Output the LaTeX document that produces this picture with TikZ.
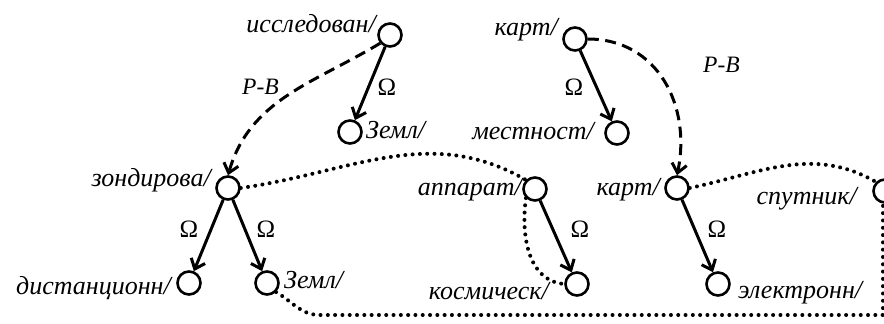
\documentclass[tikz,border=0pt]{standalone}
\usepackage{fontspec}
\setmainfont{Liberation Serif}
\usetikzlibrary{arrows.meta}
\tikzset{
  vtx/.style={circle,draw,line width=2.6pt,minimum size=23pt,inner sep=0pt},
  lbl/.style={font=\fontsize{26}{30}\selectfont\itshape,inner sep=0pt},
  rbl/.style={font=\fontsize{23.5}{26}\selectfont\itshape,inner sep=0pt},
  om/.style={font=\fontsize{25}{28}\selectfont,inner sep=0pt},
  omarrow/.style={line width=3pt,-{Straight Barb[length=9pt,width=15pt,line width=3pt]}},
  rbarrow/.style={line width=3pt,dash pattern=on 11pt off 6.5pt,-{Straight Barb[length=9pt,width=15pt,line width=3pt]}},
  dotline/.style={line width=4pt,line cap=round,dash pattern=on 0pt off 7.3pt}
}
\begin{document}
\begin{tikzpicture}[x=1pt,y=-1pt]
\useasboundingbox (0,0) rectangle (884,324);
% vertices
\node[vtx] (isl) at (390,35) {};
\node[vtx] (zem1) at (350,132) {};
\node[vtx] (kar1) at (575,39) {};
\node[vtx] (mes) at (617,133) {};
\node[vtx] (zon) at (228,188) {};
\node[vtx] (dis) at (189,283) {};
\node[vtx] (zem2) at (267,283) {};
\node[vtx] (app) at (535,189) {};
\node[vtx] (kos) at (577,284) {};
\node[vtx] (kar2) at (677,188) {};
\node[vtx] (ele) at (718,284) {};
\node[vtx] (spu) at (885,191) {};
% labels
\node[lbl,anchor=base east] (tisl) at (376,32) {исследован/};
\node[lbl,anchor=base west] (tzem1) at (366,138) {Земл/};
\node[lbl,anchor=base east] (tkar1) at (558,35) {карт/};
\node[lbl,anchor=base east] (tmes) at (594,139) {местност/};
\node[lbl,anchor=base east] (tzon) at (211,186) {зондирова/};
\node[lbl,anchor=base east] (tdis) at (171,294) {дистанционн/};
\node[lbl,anchor=base west] (tzem2) at (284,288) {Земл/};
\node[lbl,anchor=base east] (tapp) at (522,195) {аппарат/};
\node[lbl,anchor=base east] (tkos) at (549,299) {космическ/};
\node[lbl,anchor=base east] (tkar2) at (660,195) {карт/};
\node[lbl,anchor=base east] (tspu) at (857,204) {спутник/};
\node[lbl,anchor=base west] (tele) at (738,298) {электронн/};
\node[rbl,anchor=base west] (rb1) at (242,94) {P-B};
\node[rbl,anchor=base west] (rb2) at (703,72) {P-B};
\node[om,anchor=base] (o1) at (387,95) {Ω};
\node[om,anchor=base] (o2) at (574,95) {Ω};
\node[om,anchor=base] (o3) at (189,237) {Ω};
\node[om,anchor=base] (o4) at (266,237) {Ω};
\node[om,anchor=base] (o5) at (580,237) {Ω};
\node[om,anchor=base] (o6) at (717,237) {Ω};
% Omega arrows
\draw[omarrow] (isl) -- (zem1);
\draw[omarrow] (kar1) -- (mes);
\draw[omarrow] (zon) -- (dis);
\draw[omarrow] (zon) -- (zem2);
\draw[omarrow] (app) -- (kos);
\draw[omarrow] (kar2) -- (ele);
% P-B dashed arrows
\draw[rbarrow] (isl.220) to[out=211,in=74] (zon.north);
\draw[rbarrow] (kar1.east) to[out=0,in=78,looseness=1.1] (kar2.north);
% dotted links
\draw[dotline] (zon.east) to[out=8,in=150] (app.north west);
\draw[dotline] (app.south west) to[out=262,in=175] (kos.west);
\draw[dotline] (kar2.east) to[out=12,in=150] (spu.north west);
\coordinate (c1) at (320,315);
\coordinate (c2) at (883,315);
\draw[dotline] (zem2.south east) to[out=-30,in=180] (c1) -- (c2) -- (spu.south -| c2);
\end{tikzpicture}
\end{document}
